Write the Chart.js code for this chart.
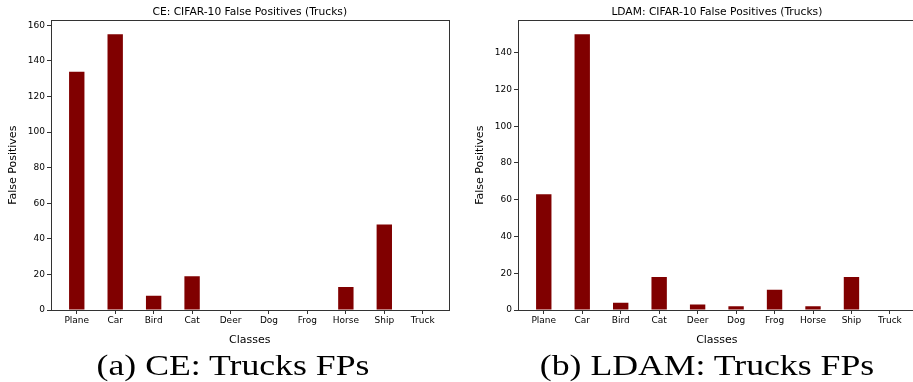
<!DOCTYPE html>
<html>
<head>
<meta charset="utf-8">
<script src="https://cdn.jsdelivr.net/npm/chart.js@4"></script>
<style>
  html, body { margin: 0; padding: 0; background: #fff; overflow: hidden; }
  body { width: 913px; height: 382px; position: relative; }
  canvas { position: absolute; top: 0; }
  .caption {
    position: absolute; top: 347px; transform: translateX(-50%) scaleX(1.19);
    font-family: 'Liberation Serif', serif; font-size: 30px; line-height: 36px;
    white-space: nowrap; color: #000;
  }
</style>
</head>
<body>
<canvas id="ce" width="460" height="350" style="left:0"></canvas>
<canvas id="ldam" width="470" height="350" style="left:455px"></canvas>
<div class="caption" style="left:233px">(a) CE: Trucks FPs</div>
<div class="caption" style="left:707px">(b) LDAM: Trucks FPs</div>
<script>
const classes = ['Plane', 'Car', 'Bird', 'Cat', 'Deer', 'Dog', 'Frog', 'Horse', 'Ship', 'Truck'];
const ceFalsePositives = [134, 155, 8, 19, 0, 0, 0, 13, 48, 0];
const ldamFalsePositives = [63, 150, 4, 18, 3, 2, 11, 2, 18, 0];
const ceYTicks = [0, 20, 40, 60, 80, 100, 120, 140, 160];
const ldamYTicks = [0, 20, 40, 60, 80, 100, 120, 140];
const ceYMax = 162.75;
const ldamYMax = 157.5;

Chart.defaults.font.family = "'DejaVu Sans', sans-serif";
Chart.defaults.color = '#000';

// matplotlib style box round the axes
const frame = {
  id: 'frame',
  afterDraw(chart) {
    const {ctx, chartArea: a} = chart;
    const l = Math.round(a.left) + 0.5, r = Math.round(a.right) + 0.5;
    const t = Math.round(a.top) + 0.5, b = Math.round(a.bottom) + 0.5;
    ctx.save();
    ctx.strokeStyle = '#333';
    ctx.lineWidth = 1;
    ctx.strokeRect(l, t, r - l, b - t);
    ctx.restore();
  }
};

function makeChart(id, title, values, yTicks, yMax, yWidth, yTitlePad, padRight) {
  return new Chart(document.getElementById(id), {
    type: 'bar',
    data: {
      datasets: [{
        data: values.map((v, i) => ({x: i, y: v})),
        backgroundColor: '#800000',
        borderWidth: 0,
        barPercentage: 1,
        categoryPercentage: 0.4
      }]
    },
    options: {
      responsive: false,
      animation: false,
      devicePixelRatio: 1,
      layout: {padding: {left: 0, right: padRight, top: 0, bottom: 0}},
      plugins: {
        legend: {display: false},
        tooltip: {enabled: false},
        title: {
          display: true,
          text: title,
          fullSize: false,
          color: '#000',
          font: {size: 10.7, weight: 'normal', lineHeight: 1.028},
          padding: {top: 7, bottom: 2.5}
        }
      },
      scales: {
        x: {
          type: 'linear',
          offset: false,
          min: -0.67,
          max: 9.67,
          afterBuildTicks: s => { s.ticks = classes.map((c, i) => ({value: i})); },
          afterFit: s => { s.height = 40; },
          ticks: {
            callback: v => classes[v],
            font: {size: 9},
            padding: 1,
            autoSkip: false,
            maxRotation: 0
          },
          grid: {drawOnChartArea: false, offset: false, tickLength: 4, color: '#333'},
          border: {display: false},
          title: {display: true, text: 'Classes', font: {size: 11}, padding: {top: 0, bottom: 3.5}}
        },
        y: {
          min: 0,
          max: yMax,
          afterBuildTicks: s => { s.ticks = yTicks.map(v => ({value: v})); },
          afterFit: s => { s.width = yWidth; },
          ticks: {font: {size: 9}, padding: 2},
          grid: {drawOnChartArea: false, tickLength: 4, color: '#333'},
          border: {display: false},
          title: {display: true, text: 'False Positives', font: {size: 11}, padding: {top: yTitlePad, bottom: 0}}
        }
      }
    },
    plugins: [frame]
  });
}

makeChart('ce', 'CE: CIFAR-10 False Positives (Trucks)', ceFalsePositives, ceYTicks, ceYMax, 51, 6.4, 11.5);
makeChart('ldam', 'LDAM: CIFAR-10 False Positives (Trucks)', ldamFalsePositives, ldamYTicks, ldamYMax, 63, 18.4, 9.3);
</script>
</body>
</html>
